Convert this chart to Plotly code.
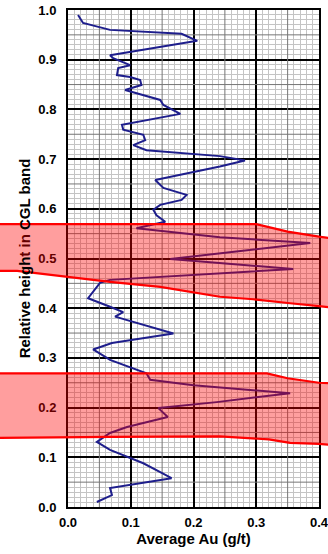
import numpy as np
import plotly.graph_objects as go

# ---- data ----
au = [0.016, 0.024, 0.067, 0.181, 0.206, 0.067, 0.072, 0.099, 0.080, 0.078,
      0.099, 0.115, 0.117, 0.091, 0.147, 0.152, 0.179, 0.086, 0.088, 0.120,
      0.123, 0.104, 0.125, 0.242, 0.282, 0.242, 0.139, 0.147, 0.152, 0.189,
      0.181, 0.147, 0.136, 0.141, 0.155, 0.109, 0.242, 0.386, 0.242, 0.163,
      0.359, 0.067, 0.051, 0.032, 0.067, 0.088, 0.075, 0.168, 0.070, 0.040,
      0.062, 0.067, 0.125, 0.131, 0.200, 0.354, 0.237, 0.144, 0.159, 0.094,
      0.067, 0.046, 0.067, 0.120, 0.147, 0.165, 0.067, 0.070, 0.046]
height = [0.990, 0.974, 0.960, 0.952, 0.938, 0.909, 0.903, 0.889, 0.883, 0.869,
          0.865, 0.859, 0.849, 0.839, 0.819, 0.809, 0.791, 0.769, 0.759, 0.749,
          0.738, 0.728, 0.718, 0.706, 0.697, 0.685, 0.658, 0.648, 0.642, 0.628,
          0.618, 0.608, 0.598, 0.587, 0.574, 0.561, 0.543, 0.531, 0.511, 0.499,
          0.479, 0.457, 0.451, 0.420, 0.403, 0.392, 0.383, 0.349, 0.330, 0.317,
          0.300, 0.296, 0.269, 0.256, 0.245, 0.229, 0.211, 0.199, 0.181, 0.161,
          0.149, 0.131, 0.115, 0.088, 0.070, 0.058, 0.038, 0.024, 0.010]

x_ticks = [0.0, 0.1, 0.2, 0.3, 0.4]
x_tick_labels = ["0.0", "0.1", "0.2", "0.3", "0.4"]
y_ticks = [0.0, 0.1, 0.2, 0.3, 0.4, 0.5, 0.6, 0.7, 0.8, 0.9, 1.0]
y_tick_labels = ["0.0", "0.1", "0.2", "0.3", "0.4", "0.5", "0.6", "0.7", "0.8", "0.9", "1.0"]

# highlighted bands (edges in data units: Au, relative height)
upper_top_x = [-0.13, 0.300, 0.350, 0.400, 0.43]
upper_top_y = [0.569, 0.569, 0.554, 0.544, 0.539]
upper_bot_x = [-0.13, -0.081, 0.067, 0.147, 0.242, 0.295, 0.354, 0.400, 0.43]
upper_bot_y = [0.475, 0.475, 0.453, 0.443, 0.423, 0.418, 0.410, 0.404, 0.400]
lower_top_x = [-0.13, 0.317, 0.350, 0.400, 0.43]
lower_top_y = [0.269, 0.269, 0.259, 0.250, 0.248]
lower_bot_x = [-0.13, 0.067, 0.242, 0.320, 0.354, 0.400, 0.43]
lower_bot_y = [0.139, 0.141, 0.142, 0.136, 0.129, 0.127, 0.124]

X_RANGE = [0.0, 0.4]
Y_RANGE = [0.0, 1.0]

FONT = "Liberation Sans, Arial, Helvetica, sans-serif"

fig = go.Figure()
fig.add_trace(go.Scatter(x=au, y=height, mode="lines",
                         line=dict(color="#1e1e8c", width=2), showlegend=False,
                         hoverinfo="skip"))


def to_dom_x(v):
    return (v - X_RANGE[0]) / (X_RANGE[1] - X_RANGE[0])


def to_dom_y(v):
    return (v - Y_RANGE[0]) / (Y_RANGE[1] - Y_RANGE[0])


def path_from(xs, ys):
    pts = [f"{to_dom_x(a):.4f},{to_dom_y(b):.4f}" for a, b in zip(xs, ys)]
    return "M" + " L".join(pts)


shapes = []
# medium grid lines at 0.05 multiples
for v in np.arange(0.05, 0.4, 0.1):
    shapes.append(dict(type="line", xref="x", yref="y", x0=v, x1=v, y0=Y_RANGE[0], y1=Y_RANGE[1],
                       line=dict(color="#767676", width=1), layer="between"))
for v in np.arange(0.05, 1.0, 0.1):
    shapes.append(dict(type="line", xref="x", yref="y", x0=X_RANGE[0], x1=X_RANGE[1], y0=v, y1=v,
                       line=dict(color="#767676", width=1), layer="between"))

for tx, ty, bx, by in [(upper_top_x, upper_top_y, upper_bot_x, upper_bot_y),
                       (lower_top_x, lower_top_y, lower_bot_x, lower_bot_y)]:
    poly = path_from(tx, ty) + " L" + " L".join(
        f"{to_dom_x(a):.4f},{to_dom_y(b):.4f}" for a, b in zip(bx[::-1], by[::-1])) + " Z"
    shapes.append(dict(type="path", xref="paper", yref="paper", path=poly,
                       fillcolor="rgba(255,0,0,0.38)", line=dict(width=0), layer="above"))
    shapes.append(dict(type="path", xref="paper", yref="paper", path=path_from(tx, ty),
                       line=dict(color="#ff0000", width=2.2), layer="above"))
    shapes.append(dict(type="path", xref="paper", yref="paper", path=path_from(bx, by),
                       line=dict(color="#ff0000", width=2.2), layer="above"))

minor_x = [round(v, 2) for v in np.arange(0.01, 0.4, 0.01) if round(v * 100) % 5 != 0]
minor_y = [round(v, 2) for v in np.arange(0.01, 1.0, 0.01) if round(v * 100) % 5 != 0]

# part of the y title lying under the upper band is shown tinted, as in the source
y_title = "Relative heigh<span style='color:#640000'>t in </span>CGL band"

fig.update_layout(
    width=328, height=554,
    margin=dict(l=68, r=9, t=10, b=47),
    paper_bgcolor="white", plot_bgcolor="white",
    font=dict(family=FONT, color="black"),
    shapes=shapes,
    xaxis=dict(range=X_RANGE, tickmode="array", tickvals=x_ticks, ticktext=x_tick_labels,
               showgrid=True, gridcolor="black", gridwidth=1.5, zeroline=False,
               showline=True, linecolor="black", linewidth=2, mirror=True, ticks="",
               automargin=False, ticklabelstandoff=2, ticklabeloverflow="allow",
               tickfont=dict(size=13, weight="bold"),
               title=dict(text="Average Au (g/t)", font=dict(size=15, weight="bold"), standoff=0),
               minor=dict(tickmode="array", tickvals=minor_x, showgrid=True,
                          gridcolor="#c4c4c4", gridwidth=1)),
    yaxis=dict(range=Y_RANGE, tickmode="array", tickvals=y_ticks, ticktext=y_tick_labels,
               showgrid=True, gridcolor="black", gridwidth=1.5, zeroline=False,
               showline=True, linecolor="black", linewidth=2, mirror=True, ticks="",
               automargin=False, ticklabelstandoff=7, ticklabeloverflow="allow",
               tickfont=dict(size=13, weight="bold"),
               title=dict(text=y_title, font=dict(size=15, weight="bold"),
                          standoff=4),
               minor=dict(tickmode="array", tickvals=minor_y, showgrid=True,
                          gridcolor="#c4c4c4", gridwidth=1)),
)

fig.write_html("out.html", config={"displayModeBar": False},
               post_script="document.body.style.margin='0';document.body.style.overflow='hidden';")
